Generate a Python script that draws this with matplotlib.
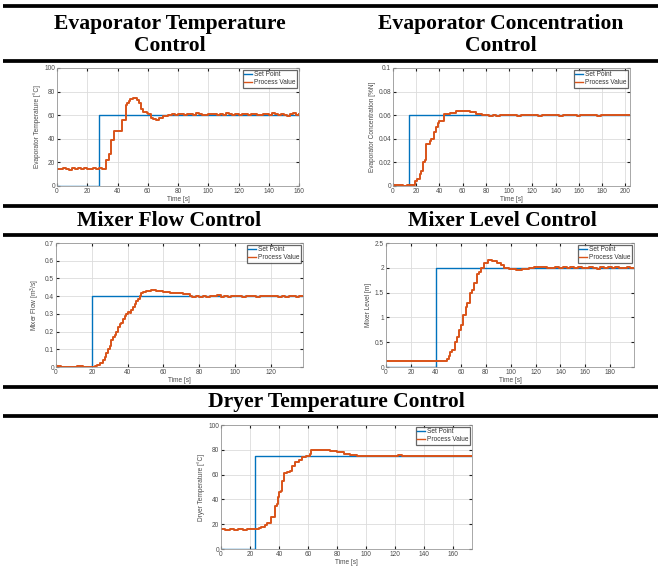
import matplotlib
matplotlib.use("Agg")
import matplotlib.pyplot as plt
from matplotlib.lines import Line2D

# ---------------- data ----------------
# each process series is a list of (time [s], value) samples

evap_temp_sp = [(0, 0), (28, 0), (28, 60), (160, 60)]
evap_temp_pv = [
    (0, 14.8), (2, 14.1), (4, 15.4), (6, 14.6), (8, 13.9), (10, 15.2), (12, 14.4),
    (14, 15.0), (16, 14.0), (18, 15.3), (20, 14.6), (22, 14.2), (24, 15.1),
    (26, 14.1), (28, 14.9), (30, 14.4), (32.5, 21.8), (34.7, 27.5), (35.8, 39.0),
    (38, 46.8), (43, 56.0), (45.3, 68.6), (46.5, 70.0), (47.5, 72.0), (48.5, 74.0),
    (50, 74.6), (51.5, 74.2), (52.7, 73.0), (54.5, 70.0), (55.4, 65.0), (56.7, 63.0),
    (59.3, 62.0), (60.4, 61.0), (62, 58.0), (63.7, 57.0), (65.5, 56.0), (67.7, 57.5),
    (70.3, 59.0), (73.6, 60.5), (76, 61.2), (78, 60.4), (80, 61.4), (82, 60.9),
    (84, 60.2), (86, 61.3), (88, 60.7), (90, 59.9), (92, 61.5), (94, 60.8),
    (96, 60.3), (98, 59.8), (100, 60.6), (102, 61.4), (104, 60.7), (106, 60.1),
    (108, 61.2), (110, 60.4), (112, 61.6), (114, 60.8), (116, 60.0), (118, 60.9),
    (120, 60.3), (122, 61.3), (124, 60.8), (126, 60.1), (128, 60.9), (130, 61.4),
    (132, 60.5), (134, 59.9), (136, 60.7), (138, 61.2), (140, 60.3), (142, 61.7),
    (144, 60.9), (146, 60.1), (148, 61.4), (150, 60.2), (152, 59.7), (154, 60.8),
    (156, 61.5), (158, 60.0), (160, 60.8),
]

evap_conc_sp = [(0, 0), (13.75, 0), (13.75, 0.06), (204, 0.06)]
evap_conc_pv = [
    (0, 0.0008), (3, 0.0005), (6, 0.0007), (9, 0.0004), (12, 0.0006), (15, 0.0005),
    (17, 0.0008), (18.6, 0.004), (20.6, 0.006), (23, 0.010), (24.4, 0.013),
    (25.8, 0.020), (27.8, 0.022), (28.7, 0.036), (31.5, 0.038), (33, 0.040),
    (35, 0.046), (37, 0.050), (38.7, 0.053), (40, 0.055), (43, 0.0555),
    (44, 0.0610), (48.7, 0.0620), (54.4, 0.0634), (58.7, 0.0637), (62, 0.0632),
    (66, 0.0625), (71.6, 0.0612), (77, 0.0605), (80, 0.0601), (83, 0.0597),
    (86, 0.0602), (89, 0.0596), (92, 0.0603), (95, 0.0600), (98, 0.0604),
    (101, 0.0598), (104, 0.0601), (107, 0.0597), (110, 0.0603), (113, 0.0600),
    (116, 0.0604), (119, 0.0598), (122, 0.0601), (125, 0.0597), (128, 0.0603),
    (131, 0.0600), (134, 0.0598), (137, 0.0603), (140, 0.0600), (143, 0.0597),
    (146, 0.0601), (149, 0.0604), (152, 0.0598), (155, 0.0601), (158, 0.0597),
    (161, 0.0603), (164, 0.0600), (167, 0.0604), (170, 0.0598), (173, 0.0601),
    (176, 0.0597), (179, 0.0603), (182, 0.0600), (185, 0.0604), (188, 0.0598),
    (191, 0.0601), (194, 0.0603), (197, 0.0598), (200, 0.0601), (204, 0.0600),
]

mixer_flow_sp = [(0, 0), (20, 0), (20, 0.4), (138, 0.4)]
mixer_flow_pv = [
    (0, 0.003), (3, 0.001), (6, 0.002), (9, 0.001), (12, 0.003), (15, 0.002),
    (18, 0.001), (20, 0.002), (21.7, 0.005), (23, 0.010), (24.5, 0.020),
    (26.3, 0.040), (27.2, 0.055), (28.2, 0.080), (29.1, 0.100), (30, 0.120),
    (31, 0.150), (31.9, 0.170), (32.8, 0.180), (33.8, 0.200), (34.7, 0.225),
    (35.6, 0.240), (36.5, 0.250), (37.5, 0.270), (38.4, 0.290), (39.3, 0.300),
    (40.2, 0.310), (41.2, 0.305), (42, 0.320), (43, 0.340), (44, 0.355),
    (44.9, 0.370), (45.8, 0.385), (46.8, 0.400), (47.7, 0.415), (48.6, 0.425),
    (50.5, 0.430), (53.2, 0.434), (56, 0.430), (59.7, 0.426), (63.5, 0.420),
    (67, 0.415), (71, 0.410), (74.6, 0.402), (76, 0.397), (78.3, 0.402),
    (80, 0.396), (82, 0.401), (84, 0.397), (86, 0.402), (88, 0.398), (90, 0.404),
    (92, 0.397), (94, 0.401), (96, 0.396), (98, 0.402), (100, 0.398),
    (102, 0.401), (104, 0.397), (106, 0.403), (108, 0.398), (110, 0.401),
    (112, 0.397), (114, 0.402), (116, 0.399), (118, 0.403), (120, 0.398),
    (122, 0.402), (124, 0.397), (126, 0.401), (128, 0.395), (130, 0.398),
    (132, 0.402), (134, 0.397), (136, 0.401), (138, 0.399),
]

mixer_level_sp = [(0, 0), (40, 0), (40, 2), (199, 2)]
mixer_level_pv = [
    (0, 0.12), (4, 0.125), (8, 0.12), (12, 0.118), (16, 0.122), (20, 0.12),
    (24, 0.124), (28, 0.12), (32, 0.119), (36, 0.122), (40, 0.12), (44, 0.121),
    (47, 0.12), (49, 0.17), (50.4, 0.22), (51.7, 0.30), (53, 0.35), (55, 0.50),
    (56.6, 0.60), (58.4, 0.75), (60.3, 0.85), (62, 1.05), (63.8, 1.20),
    (65, 1.30), (67.3, 1.50), (69.2, 1.55), (71, 1.70), (72.7, 1.88),
    (74.5, 1.92), (76.4, 2.00), (79, 2.10), (81.8, 2.16), (85, 2.14),
    (89.3, 2.10), (92, 2.05), (94.6, 2.00), (98.7, 1.97), (104, 1.96),
    (109.4, 1.97), (114.7, 2.00), (118.8, 2.01), (124, 2.015), (129.5, 2.00),
    (133, 1.99), (136, 2.01), (139, 1.99), (142, 2.015), (145, 1.99),
    (148, 2.01), (151, 1.99), (154, 2.015), (157, 2.00), (160, 1.99),
    (163, 2.01), (166, 2.00), (169, 1.985), (172, 2.015), (175, 1.99),
    (178, 2.01), (181, 1.99), (184, 2.015), (187, 2.00), (190, 1.99),
    (193, 2.015), (196, 1.99), (199, 2.00),
]

dryer_temp_sp = [(0, 0), (23.4, 0), (23.4, 75), (173, 75)]
dryer_temp_pv = [
    (0, 15.8), (3, 15.4), (6, 16.2), (9, 15.6), (12, 16.1), (15, 15.5),
    (18, 16.3), (21, 15.8), (24.8, 16.0), (26.4, 17.0), (27.8, 18.0),
    (30.6, 19.0), (31.7, 21.0), (34, 21.0), (34.7, 26.0), (36.8, 26.0),
    (37.2, 35.0), (38.6, 36.0), (39.3, 42.0), (40, 46.0), (41.4, 47.0),
    (42, 55.0), (43.7, 61.0), (45.5, 62.0), (47.8, 63.0), (49, 67.0),
    (51.3, 70.0), (53.6, 72.0), (55.9, 74.0), (58.9, 75.0), (61.1, 77.0),
    (62, 79.5), (66.2, 80.0), (70.8, 79.8), (75.4, 79.0), (80, 78.0),
    (84.6, 77.0), (89.2, 76.0), (93.8, 75.3), (98.4, 75.0), (101, 75.3),
    (104, 74.7), (107, 75.2), (110, 75.4), (113, 74.8), (116, 75.3),
    (119, 75.0), (122, 75.5), (125, 74.8), (128, 75.2), (131, 75.4),
    (134, 74.7), (137, 75.3), (140, 75.0), (143, 75.4), (146, 74.8),
    (149, 75.2), (152, 75.3), (155, 74.7), (158, 75.2), (161, 75.4),
    (164, 74.8), (167, 75.2), (170, 74.6), (173, 75.0),
]

# ---------------- figure ----------------
W, H = 660, 569
fig = plt.figure(figsize=(W / 100, H / 100), dpi=100)
fig.patch.set_facecolor("white")

SP_COLOR = "#0072BD"
PV_COLOR = "#D95319"
TXT = 4.7
TICK_COLOR = "#4a4a4a"

plt.rcParams["font.family"] = ["Liberation Sans", "DejaVu Sans"]


def px_axes(left, top, right, bottom):
    return fig.add_axes([left / W, 1 - bottom / H, (right - left) / W, (bottom - top) / H])


def draw_panel(box, sp, pv, xlim, xticks, ylim, yticks, ylabel, yfmt=None):
    ax = px_axes(*box)
    ax.plot([p[0] for p in sp], [p[1] for p in sp], color=SP_COLOR, lw=1.0)
    ax.plot([p[0] for p in pv], [p[1] for p in pv], color=PV_COLOR, lw=1.4,
            drawstyle="steps-post")
    ax.set_xlim(*xlim)
    ax.set_ylim(*ylim)
    ax.set_xticks(xticks)
    ax.set_yticks(yticks)
    if yfmt:
        ax.set_yticklabels([yfmt(v) for v in yticks])
    ax.grid(True, color="#dcdcdc", lw=0.6)
    ax.set_axisbelow(True)
    ax.tick_params(direction="in", length=2.2, width=0.8, color="#202020",
                   labelsize=TXT, labelcolor=TICK_COLOR, pad=1.5,
                   top=True, right=True)
    for s in ax.spines.values():
        s.set_color("#9a9a9a")
        s.set_linewidth(0.6)
    ax.set_xlabel("Time [s]", fontsize=TXT, color=TICK_COLOR, labelpad=1)
    ax.set_ylabel(ylabel, fontsize=TXT, color=TICK_COLOR, labelpad=2)
    handles = [Line2D([], [], color=SP_COLOR, lw=1.0),
               Line2D([], [], color=PV_COLOR, lw=1.0)]
    leg = ax.legend(handles, ["Set Point", "Process Value"], loc="upper right",
                    fontsize=TXT, frameon=True, fancybox=False, borderpad=0.25,
                    labelspacing=0.15, handlelength=1.2, handletextpad=0.3,
                    borderaxespad=0.25)
    leg.get_frame().set_edgecolor("#404040")
    leg.get_frame().set_linewidth(0.9)
    for t in leg.get_texts():
        t.set_color("#333333")
    return ax


draw_panel((57, 68, 299, 186), evap_temp_sp, evap_temp_pv, (0, 160),
           list(range(0, 161, 20)), (0, 100), list(range(0, 101, 20)),
           "Evaporator Temperature [°C]")
draw_panel((393, 68, 630, 186), evap_conc_sp, evap_conc_pv, (0, 204),
           list(range(0, 201, 20)), (0, 0.1), [0, 0.02, 0.04, 0.06, 0.08, 0.1],
           "Evaporator Concentration [%N]", yfmt=lambda v: f"{v:g}")
draw_panel((56, 243, 303, 367), mixer_flow_sp, mixer_flow_pv, (0, 138),
           list(range(0, 121, 20)), (0, 0.7), [0, 0.1, 0.2, 0.3, 0.4, 0.5, 0.6, 0.7],
           "Mixer Flow [m$^3$/s]", yfmt=lambda v: f"{v:g}")
draw_panel((386, 243, 634, 367), mixer_level_sp, mixer_level_pv, (0, 199),
           list(range(0, 181, 20)), (0, 2.5), [0, 0.5, 1, 1.5, 2, 2.5],
           "Mixer Level [m]", yfmt=lambda v: f"{v:g}")
draw_panel((221, 425, 472, 549), dryer_temp_sp, dryer_temp_pv, (0, 173),
           list(range(0, 161, 20)), (0, 100), list(range(0, 101, 20)),
           "Dryer Temperature [°C]")

# ---------------- section titles and rules ----------------
for y in [6, 61, 206, 235, 387, 416]:
    fig.add_artist(Line2D([3 / W, 658 / W], [1 - y / H, 1 - y / H],
                          color="black", lw=2.7, solid_capstyle="butt"))

TITLE = dict(family=["Liberation Serif", "DejaVu Serif"], fontweight="bold",
             fontsize=15.6, ha="center", va="center", color="black")
fig.text(170 / W, 1 - 35 / H, "Evaporator Temperature\nControl", linespacing=1.15, **TITLE)
fig.text(501 / W, 1 - 35 / H, "Evaporator Concentration\nControl", linespacing=1.15, **TITLE)
fig.text(169 / W, 1 - 221 / H, "Mixer Flow Control", **TITLE)
fig.text(502 / W, 1 - 221 / H, "Mixer Level Control", **TITLE)
fig.text(336 / W, 1 - 402 / H, "Dryer Temperature Control", **TITLE)

fig.savefig("out.png", dpi=100, facecolor="white")
